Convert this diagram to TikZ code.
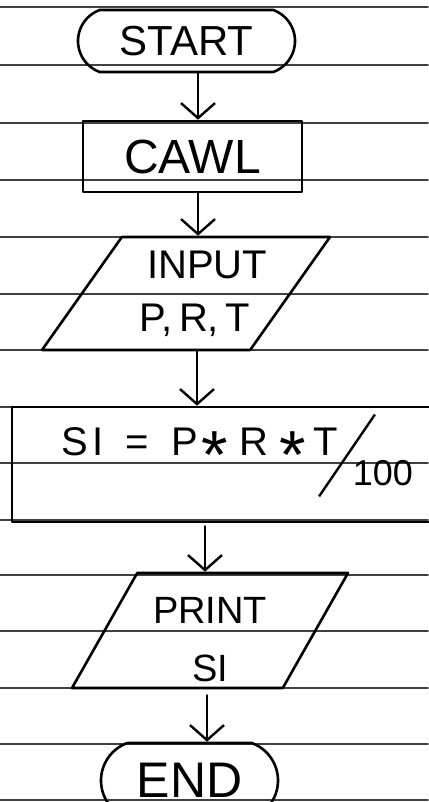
\documentclass[tikz,border=0pt]{standalone}
\usepackage{fontspec}
\setmainfont{Liberation Sans}
\usetikzlibrary{shapes.geometric,shapes.misc,arrows.meta}

\newcommand{\penfont}[1]{\fontsize{#1}{#1}\selectfont}
\newcommand{\midast}{\raisebox{-23pt}{\scalebox{1.7}{*}}}

\begin{document}
\begin{tikzpicture}[x=1pt, y=-1pt, line cap=round, line join=round,
    rule/.style={draw=black!75, line width=1.6pt},
    box/.style={draw, line width=2.6pt, inner sep=0pt},
    term/.style={box, rounded rectangle, rounded rectangle arc length=140},
    io/.style={box, trapezium, trapezium stretches body},
    flow/.style={line width=2.4pt, -{Straight Barb[length=15pt, width=34pt, line width=2.4pt]}}]
    \useasboundingbox (0,0) rectangle (428,802);
    % ruled paper
    \foreach \y in {7,65,123,180,237,294,350,407,463,520,575,631,688,744,800}
      \draw[rule] (0,\y) -- (428,\y);
    % flowchart boxes
    \node[term, minimum width=217pt, minimum height=62pt, font=\penfont{42}] (start) at (186.5,41) {START};
    \node[box, minimum width=219pt, minimum height=71pt, font=\penfont{48}] (cawl) at (192.5,156.5) {CAWL};
    \node[io, trapezium left angle=47, trapezium right angle=133, minimum width=288pt, minimum height=113pt,
      align=center, font=\penfont{40}] (input) at (186,293.5)
      {\makebox[110pt]{\hspace*{42pt}INPUT}\\[13pt]\makebox[110pt]{\hspace*{18pt}P,\,R,\,T}};
    \node[box, minimum width=433pt, minimum height=115pt, text height=40pt, text depth=59pt,
      font=\penfont{40}] (si) at (228.5,464.5)
      {\hspace*{17pt}S\kern5pt I\kern22pt=\kern22pt P\kern4pt\midast\kern11pt R\kern11pt\midast\kern8pt T%
       \kern-20pt\raisebox{-42pt}{\rotatebox{55.7}{\rule{99pt}{2.4pt}}}%
       \kern-23pt\raisebox{-30pt}{\penfont{36}100}};
    \node[io, trapezium left angle=57.5, trapezium right angle=122.5, minimum width=276pt, minimum height=115pt,
      align=center, font=\penfont{38}] (print) at (210,630.5)
      {\rule{0pt}{44pt}PRINT\\[20pt]SI};
    \node[term, minimum width=177pt, minimum height=75pt, font=\penfont{50}] (end) at (189.5,780.5) {END};
    % arrows
    \draw[flow] ([xshift=11.5pt]start.south) -- ([xshift=11.5pt]start.south |- cawl.north);
    \draw[flow] ([xshift=5.5pt]cawl.south) -- ([xshift=5.5pt]cawl.south |- input.north);
    \draw[flow] ([xshift=11pt]input.south) -- ([xshift=11pt]input.south |- si.north);
    \draw[flow] ([xshift=-23.5pt,yshift=-3pt]si.south) -- ([xshift=-23.5pt]si.south |- print.north);
    \draw[flow] ([xshift=-3pt,yshift=-6pt]print.south) -- ([xshift=-3pt]print.south |- end.north);
  \end{tikzpicture}
\end{document}
